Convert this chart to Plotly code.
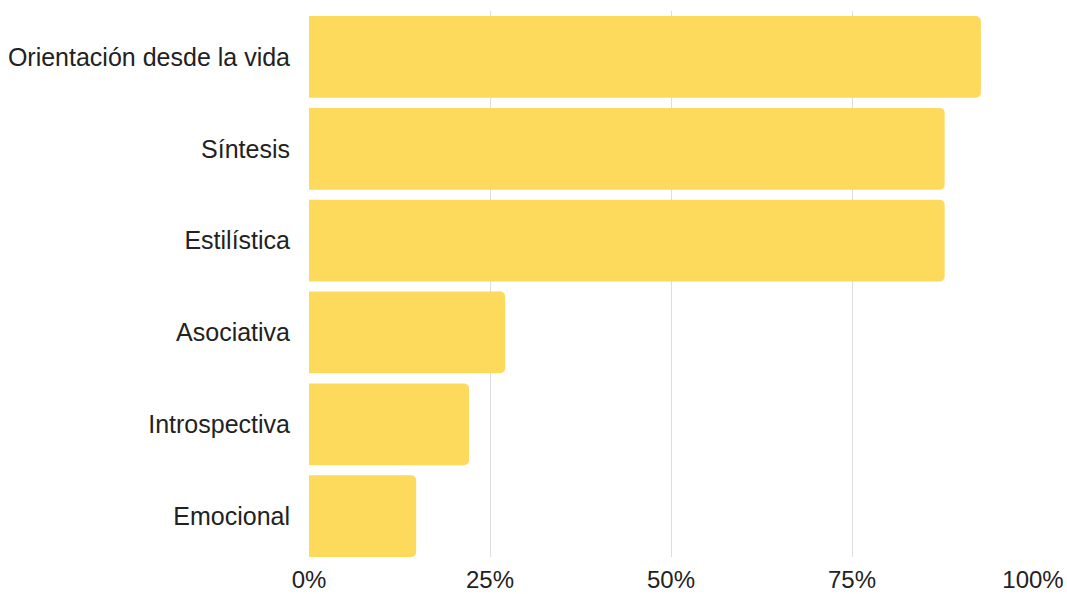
import plotly.graph_objects as go

# Categories, top to bottom
categories = [
    "Orientación desde la vida",
    "Síntesis",
    "Estilística",
    "Asociativa",
    "Introspectiva",
    "Emocional",
]
# Share of responses (fraction of 1)
values = [0.928, 0.878, 0.878, 0.271, 0.221, 0.148]

x_ticks = [0, 0.25, 0.5, 0.75, 1.0]
x_tick_labels = ["0%", "25%", "50%", "75%", "100%"]

fig = go.Figure(
    go.Bar(
        x=values,
        y=categories,
        orientation="h",
        marker=dict(color="#FDD95C", line=dict(width=0), cornerradius=5),
        width=0.89,
        hoverinfo="x+y",
    )
)

fig.update_layout(
    width=1067,
    height=594,
    margin=dict(l=309, r=34, t=11, b=37),
    paper_bgcolor="white",
    plot_bgcolor="white",
    font=dict(family="Liberation Sans, Arial, sans-serif", size=24, color="#222222"),
    showlegend=False,
    xaxis=dict(
        range=[0, 1.0],
        tickvals=x_ticks,
        ticktext=x_tick_labels,
        showgrid=True,
        gridcolor="#DDDDDD",
        gridwidth=1,
        zeroline=False,
        showline=False,
        ticks="",
        ticklen=0,
        ticklabelstandoff=6,
        automargin=False,
        tickfont=dict(size=24, color="#222222"),
    ),
    yaxis=dict(
        type="category",
        range=[5.445, -0.5],
        showgrid=False,
        zeroline=False,
        showline=False,
        ticks="",
        ticklabelstandoff=18,
        automargin=False,
        tickfont=dict(size=25, color="#222222"),
    ),
)

fig.write_html("out.html")
